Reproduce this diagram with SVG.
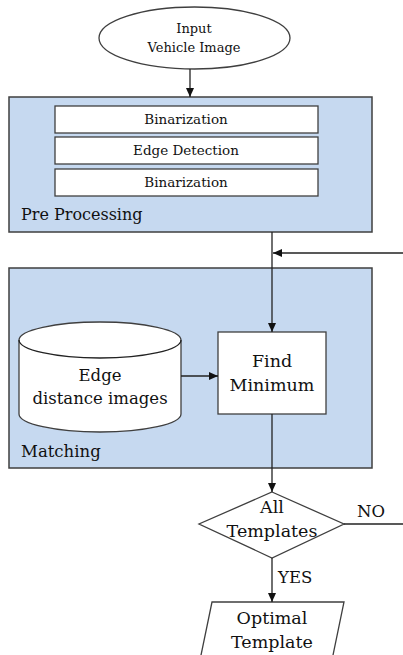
<svg xmlns="http://www.w3.org/2000/svg" width="403" height="655" viewBox="0 0 403 655">
  <style>
    text { font-family: "DejaVu Serif", "Liberation Serif", serif; fill: #111; }
    .mid { text-anchor: middle; }
    .panel { fill: #c6d9f0; stroke: #3f3f3f; stroke-width: 1.5; }
    .box { fill: #ffffff; stroke: #3f3f3f; stroke-width: 1.3; }
    .line { fill: none; stroke: #222; stroke-width: 1.3; }
  </style>
  <defs>
    <marker id="arrow" markerWidth="10" markerHeight="10" refX="9" refY="5" orient="auto" markerUnits="userSpaceOnUse">
      <path d="M0,1 L9,5 L0,9 Z" fill="#111"/>
    </marker>
  </defs>

  <!-- Input ellipse -->
  <g id="input">
    <ellipse class="box" cx="194.5" cy="38" rx="95.5" ry="31"/>
    <text class="mid" x="194" y="33" font-size="13">Input</text>
    <text class="mid" x="194" y="52" font-size="13">Vehicle Image</text>
  </g>

  <!-- Pre processing panel -->
  <g id="preprocessing">
    <rect class="panel" x="9" y="97" width="363" height="135"/>
    <text x="21" y="220" font-size="16">Pre Processing</text>
  </g>
  <g id="binarization1">
    <rect class="box" x="55" y="106" width="263" height="27"/>
    <text class="mid" x="186" y="124" font-size="13.5">Binarization</text>
  </g>
  <g id="edge-detection">
    <rect class="box" x="55" y="137" width="263" height="27"/>
    <text class="mid" x="186" y="155" font-size="13.5">Edge Detection</text>
  </g>
  <g id="binarization2">
    <rect class="box" x="55" y="169" width="263" height="27"/>
    <text class="mid" x="186" y="187" font-size="13.5">Binarization</text>
  </g>

  <!-- Matching panel -->
  <g id="matching">
    <rect class="panel" x="9" y="268" width="363" height="200"/>
    <text x="21" y="457" font-size="16.5">Matching</text>
  </g>
  <g id="edge-distance-images">
    <path class="box" d="M19,340 L19,414 A81,18 0 0 0 181,414 L181,340 A81,18 0 0 0 19,340 Z"/>
    <path class="line" d="M19,340 A81,18 0 0 0 181,340" stroke="#3f3f3f"/>
    <text class="mid" x="100" y="381" font-size="16.5">Edge</text>
    <text class="mid" x="100" y="404" font-size="16.5">distance images</text>
  </g>
  <g id="find-minimum">
    <rect class="box" x="218" y="332" width="108" height="82"/>
    <text class="mid" x="272" y="367" font-size="17.5">Find</text>
    <text class="mid" x="272" y="391" font-size="17.5">Minimum</text>
  </g>

  <!-- Decision -->
  <g id="all-templates">
    <polygon class="box" points="272,492 344,524 272,558 199,524"/>
    <text class="mid" x="272" y="513" font-size="17.5">All</text>
    <text class="mid" x="272" y="537" font-size="17.5">Templates</text>
  </g>

  <!-- Output -->
  <g id="optimal-template">
    <polygon class="box" points="212,602 344,602 332,660 200,660"/>
    <text class="mid" x="272" y="624" font-size="17.5">Optimal</text>
    <text class="mid" x="272" y="648" font-size="17.5">Template</text>
  </g>

  <!-- Connectors -->
  <g id="connectors">
    <line class="line" x1="190" y1="69" x2="190" y2="97" marker-end="url(#arrow)"/>
    <line class="line" x1="272" y1="232" x2="272" y2="332" marker-end="url(#arrow)"/>
    <line class="line" x1="403" y1="253" x2="273" y2="253" marker-end="url(#arrow)"/>
    <line class="line" x1="181" y1="376" x2="218" y2="376" marker-end="url(#arrow)"/>
    <line class="line" x1="272" y1="414" x2="272" y2="492" marker-end="url(#arrow)"/>
    <line class="line" x1="344" y1="524" x2="403" y2="524"/>
    <text x="357" y="517" font-size="16.5">NO</text>
    <line class="line" x1="272" y1="558" x2="272" y2="602" marker-end="url(#arrow)"/>
    <text x="278" y="583" font-size="16.5">YES</text>
  </g>
</svg>
